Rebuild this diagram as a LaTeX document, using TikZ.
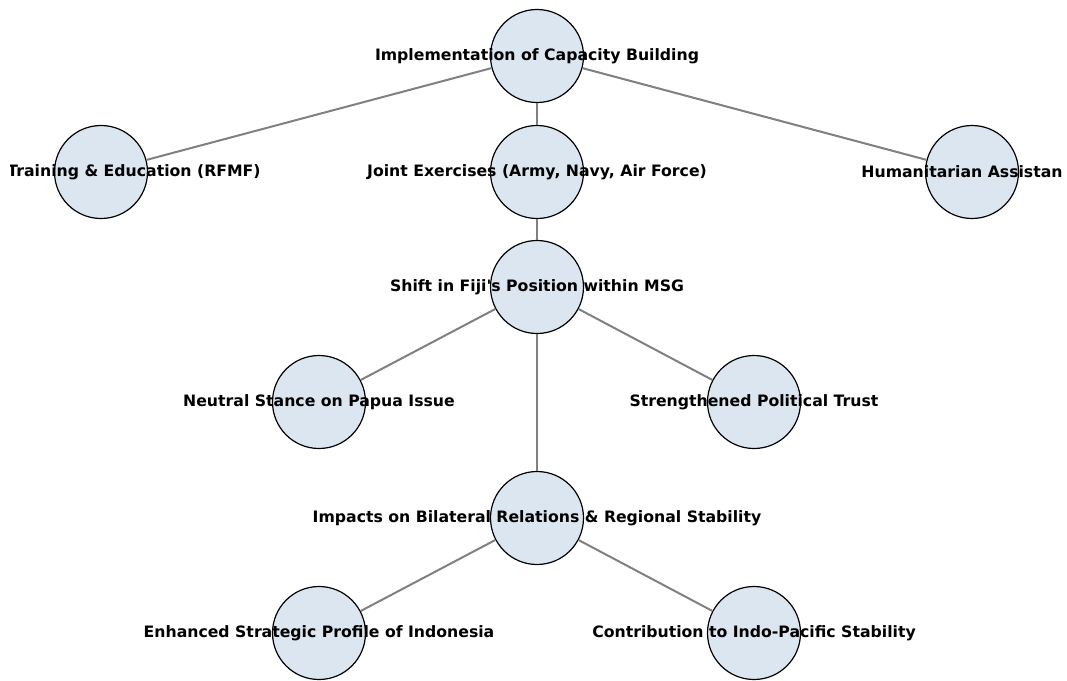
\documentclass[tikz,border=0pt]{standalone}
\usepackage{fontspec}
\setmainfont{DejaVu Sans}[Ligatures=TeXOff]
\tikzset{
  hub/.style={circle, draw=black, line width=1.2pt, fill={rgb,255:red,220;green,230;blue,240}, minimum size=93pt, inner sep=0pt},
  lbl/.style={font=\fontsize{15.7}{18}\selectfont\bfseries, inner sep=0pt},
  link/.style={draw={rgb,255:red,128;green,128;blue,128}, line width=2pt}
}
\begin{document}
\begin{tikzpicture}[x=1pt, y=-1pt]
\useasboundingbox (0,0) rectangle (1067,680);
\clip (10,0) rectangle (1062,680);

% Circles
\node[hub] (impl) at (537,56) {};
\node[hub] (train) at (101,172) {};
\node[hub] (joint) at (537,172) {};
\node[hub] (human) at (972,172) {};
\node[hub] (shift) at (537,287) {};
\node[hub] (neutral) at (319,402) {};
\node[hub] (trust) at (754,402) {};
\node[hub] (impact) at (537,518) {};
\node[hub] (profile) at (319,633) {};
\node[hub] (indopac) at (754,633) {};

% Links
\draw[link] (impl) -- (train);
\draw[link] (impl) -- (joint);
\draw[link] (impl) -- (human);
\draw[link] (joint) -- (shift);
\draw[link] (shift) -- (neutral);
\draw[link] (shift) -- (trust);
\draw[link] (shift) -- (impact);
\draw[link] (impact) -- (profile);
\draw[link] (impact) -- (indopac);

% Labels
\node[lbl] (impl-t) at (impl) {Implementation of Capacity Building};
\node[lbl, xshift=33pt] (train-t) at (train) {Training \& Education (RFMF)};
\node[lbl] (joint-t) at (joint) {Joint Exercises (Army, Navy, Air Force)};
\node[lbl] (human-t) at (human) {Humanitarian Assistance};
\node[lbl] (shift-t) at (shift) {Shift in Fiji's Position within MSG};
\node[lbl] (neutral-t) at (neutral) {Neutral Stance on Papua Issue};
\node[lbl] (trust-t) at (trust) {Strengthened Political Trust};
\node[lbl] (impact-t) at (impact) {Impacts on Bilateral Relations \& Regional Stability};
\node[lbl] (profile-t) at (profile) {Enhanced Strategic Profile of Indonesia};
\node[lbl] (indopac-t) at (indopac) {Contribution to Indo-Pacific Stability};
\end{tikzpicture}
\end{document}
